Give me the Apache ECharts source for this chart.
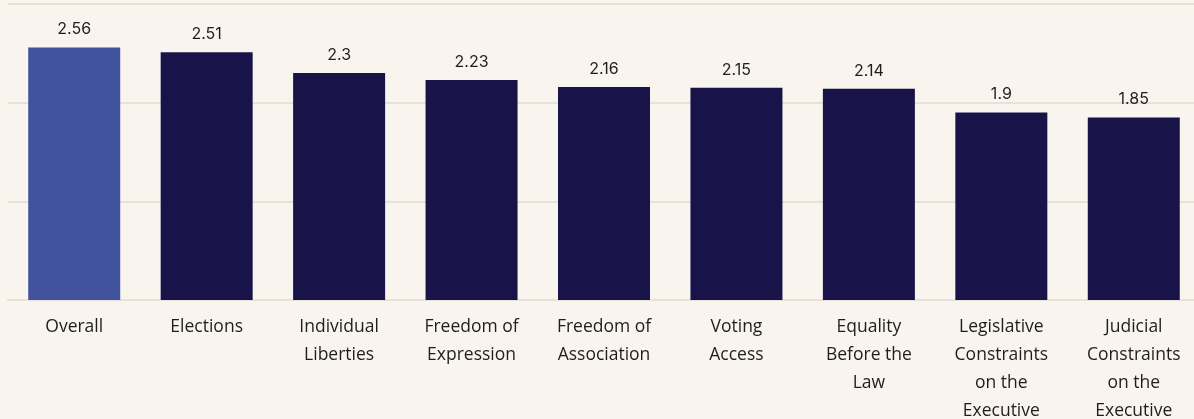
<!DOCTYPE html>
<html>
<head>
<meta charset="utf-8">
<script src="https://cdn.jsdelivr.net/npm/echarts@6/dist/echarts.min.js"></script>
<style>
  html, body { margin: 0; padding: 0; background: #f9f5ee; }
  #main { width: 1194px; height: 419px; }
</style>
</head>
<body>
<div id="main"></div>
<script>
const categories = [
    'Overall',
    'Elections',
    'Individual\nLiberties',
    'Freedom of\nExpression',
    'Freedom of\nAssociation',
    'Voting\nAccess',
    'Equality\nBefore the\nLaw',
    'Legislative\nConstraints\non the\nExecutive',
    'Judicial\nConstraints\non the\nExecutive'
]
const scores = [2.56, 2.51, 2.3, 2.23, 2.16, 2.15, 2.14, 1.9, 1.85]
const highlightIndex = 0

const chart = echarts.init(document.getElementById('main'))
const option = {
    backgroundColor: '#f9f5ee',
    animation: false,
    grid: {left: 8, right: -6, top: 4, bottom: 119, containLabel: false, outerBoundsMode: 'none'},
    xAxis: {
        type: 'category',
        data: categories,
        axisLine: {lineStyle: {color: '#e6e1d9', width: 2}},
        axisTick: {show: false},
        axisLabel: {
            interval: 0,
            margin: 13,
            color: '#1e1e1e',
            fontFamily: 'Open Sans',
            fontSize: 17.5,
            lineHeight: 28
        }
    },
    yAxis: {
        type: 'value',
        min: 0,
        max: 3,
        interval: 1,
        axisLabel: {show: false},
        axisLine: {show: false},
        axisTick: {show: false},
        splitLine: {lineStyle: {color: '#e6e1d9', width: 2}}
    },
    series: [{
        type: 'bar',
        barWidth: 92,
        data: scores.map((v, i) => ({
            value: v,
            itemStyle: {color: i === highlightIndex ? '#41529e' : '#18144a'}
        })),
        label: {
            show: true,
            position: 'top',
            distance: 10,
            color: '#1e1e1e',
            fontFamily: 'Inter',
            fontSize: 16
        }
    }]
}
chart.setOption(option)
</script>
</body>
</html>
